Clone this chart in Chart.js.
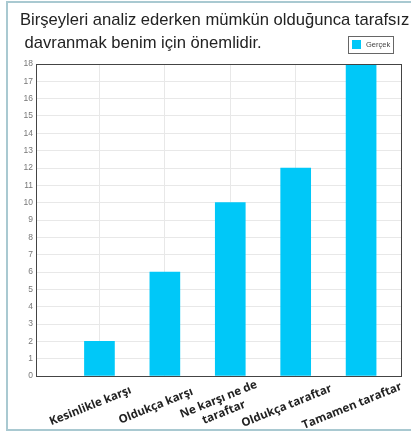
<!DOCTYPE html>
<html>
<head>
<meta charset="utf-8">
<script src="https://cdn.jsdelivr.net/npm/chart.js@4"></script>
<style>
  body { margin: 0; background: #fff; }
  canvas { display: block; }
</style>
</head>
<body>
<canvas id="barChart" width="411" height="434"></canvas>
<script>
// Gegevens
const titleLines = ['Birşeyleri analiz ederken mümkün olduğunca tarafsız', ' davranmak benim için önemlidir.'];
const categories = ['Kesinlikle karşı', 'Oldukça karşı', ['Ne karşı ne de', 'taraftar'], 'Oldukça taraftar', 'Tamamen taraftar'];
const values = [2, 6, 10, 12, 18];
const seriesName = 'Gerçek';
const yTicks = [0, 18, 1]; // min, max, step

const barColor = '#00c8f8';

// Titel, legenda, kader en x-labels zelf tekenen
const decorations = {
  id: 'decorations',
  beforeDraw(chart) {
    const ctx = chart.ctx;
    ctx.save();
    ctx.fillStyle = '#fff';
    ctx.fillRect(0, 0, chart.width, chart.height);
    ctx.strokeStyle = '#a9c9d1';
    ctx.lineWidth = 2;
    ctx.strokeRect(7, 2, 440, 428);
    ctx.restore();
  },
  afterDraw(chart) {
    const ctx = chart.ctx;
    const area = chart.chartArea;
    ctx.save();

    // kader rond plot
    ctx.strokeStyle = '#444';
    ctx.lineWidth = 1;
    ctx.strokeRect(area.left + 0.5, area.top + 0.5, area.right - area.left, area.bottom - area.top);

    // titel
    ctx.fillStyle = '#222';
    ctx.font = '16.6px "Liberation Sans", Arial, sans-serif';
    ctx.textAlign = 'left';
    ctx.textBaseline = 'alphabetic';
    titleLines.forEach((t, i) => ctx.fillText(t, 20, 25 + i * 23));

    // legenda
    const ds = chart.data.datasets[0];
    ctx.fillStyle = '#fff';
    ctx.fillRect(348, 36, 45, 17);
    ctx.strokeStyle = '#666';
    ctx.strokeRect(348.5, 36.5, 45, 17);
    ctx.fillStyle = ds.backgroundColor;
    ctx.fillRect(352, 40, 9, 9);
    ctx.fillStyle = '#444';
    ctx.font = '7.5px "Liberation Sans", Arial, sans-serif';
    ctx.textBaseline = 'middle';
    ctx.fillText(ds.label, 366, 45);

    // x-labels, gedraaid
    const xs = chart.scales.x;
    ctx.fillStyle = '#222';
    ctx.font = 'bold 11.5px "Open Sans", "DejaVu Sans", sans-serif';
    ctx.textAlign = 'center';
    categories.forEach((lab, i) => {
      const px = xs.getPixelForValue(i + 1);
      const lines = Array.isArray(lab) ? lab : [lab];
      ctx.save();
      ctx.translate(px - 9, 406);
      ctx.rotate(-22 * Math.PI / 180);
      lines.forEach((l, j) => ctx.fillText(l, 0, (j - (lines.length - 1) / 2) * 14));
      ctx.restore();
    });
    ctx.restore();
  }
};

const chart = new Chart(document.getElementById('barChart'), {
  type: 'bar',
  data: {
    datasets: [{
      label: seriesName,
      data: values.map((v, i) => ({ x: i + 1, y: v })),
      backgroundColor: barColor,
      barThickness: 30
    }]
  },
  options: {
    responsive: false,
    animation: false,
    devicePixelRatio: 1,
    layout: { padding: { top: 64, right: 10, bottom: 0, left: 0 } },
    plugins: {
      legend: { display: false },
      title: { display: false },
      tooltip: { enabled: false }
    },
    scales: {
      x: {
        type: 'linear',
        offset: false,
        min: 0.03,
        max: 5.61,
        ticks: { display: false, stepSize: 1 },
        grid: { color: '#e8e8e8', drawTicks: false, offset: false },
        border: { display: false },
        afterFit(scale) { scale.height = 58; }
      },
      y: {
        min: yTicks[0],
        max: yTicks[1],
        ticks: {
          stepSize: yTicks[2],
          padding: 3,
          color: '#777',
          font: { size: 8.5, family: '"Liberation Sans", Arial, sans-serif' }
        },
        grid: { color: '#e8e8e8', drawTicks: false },
        border: { display: false },
        afterFit(scale) { scale.width = 36; }
      }
    }
  },
  plugins: [decorations]
});
</script>
</body>
</html>
